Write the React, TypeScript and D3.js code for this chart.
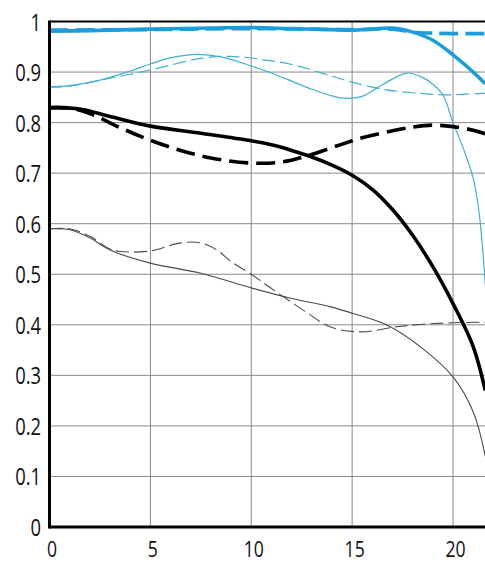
import React from "react";
import * as d3 from "d3";

const xTicks = [0, 5, 10, 15, 20];
const yTicks = [0, 0.1, 0.2, 0.3, 0.4, 0.5, 0.6, 0.7, 0.8, 0.9, 1];
const yTickLabels = ["0", "0.1", "0.2", "0.3", "0.4", "0.5", "0.6", "0.7", "0.8", "0.9", "1"];

const thickBlueSolidX = [0, 2, 5, 8, 10, 12, 14, 15, 16, 17, 18, 19, 20, 21, 21.6];
const thickBlueSolidY = [0.981, 0.982, 0.985, 0.987, 0.988, 0.986, 0.984, 0.983, 0.985, 0.987, 0.979, 0.963, 0.934, 0.9, 0.877];

const thickBlueDashedX = [0, 5, 10, 15, 17, 18, 19, 20, 21, 21.6];
const thickBlueDashedY = [0.983, 0.984, 0.986, 0.984, 0.985, 0.979, 0.977, 0.976, 0.976, 0.976];

const thinBlueSolidX = [0, 1, 2.5, 4, 5, 6, 7.3, 8.5, 10, 11, 12, 13, 14, 14.7, 15.5, 16.5, 17.7, 18.5, 19, 19.5, 20, 20.5, 21, 21.3, 21.6];
const thinBlueSolidY = [0.871, 0.873, 0.884, 0.902, 0.916, 0.928, 0.935, 0.93, 0.912, 0.898, 0.882, 0.866, 0.853, 0.848, 0.852, 0.875, 0.898, 0.889, 0.876, 0.855, 0.8, 0.75, 0.69, 0.62, 0.48];

const thinBlueDashedX = [0, 1, 3, 5, 7.5, 9, 10.5, 12, 13.5, 15, 16.5, 18, 19, 20, 21, 21.6];
const thinBlueDashedY = [0.87, 0.872, 0.888, 0.904, 0.927, 0.931, 0.925, 0.915, 0.898, 0.88, 0.866, 0.859, 0.856, 0.855, 0.857, 0.858];

const blackSolidX = [0, 1.5, 3, 5, 7.5, 10, 11, 12, 13, 14, 15, 16, 17, 18, 19, 20, 21, 21.6];
const blackSolidY = [0.829, 0.827, 0.812, 0.793, 0.779, 0.764, 0.756, 0.745, 0.732, 0.716, 0.696, 0.668, 0.628, 0.577, 0.515, 0.442, 0.357, 0.27];

const blackDashedX = [0, 1, 2, 3.5, 5, 6.5, 8, 10, 11.5, 12.75, 14.4, 15.5, 16.9, 18, 19, 20, 21, 21.6];
const blackDashedY = [0.83, 0.829, 0.818, 0.79, 0.765, 0.745, 0.73, 0.72, 0.722, 0.734, 0.756, 0.77, 0.783, 0.791, 0.795, 0.792, 0.785, 0.778];

const graySolidX = [0, 1, 2, 3, 5, 7.5, 10, 11.9, 13.9, 15, 16.7, 18.5, 20, 21, 21.6];
const graySolidY = [0.59, 0.588, 0.572, 0.548, 0.522, 0.502, 0.473, 0.453, 0.436, 0.423, 0.4, 0.353, 0.297, 0.228, 0.14];

const grayDashedX = [0, 1, 2, 3, 3.5, 5, 6.5, 7.5, 8.3, 9, 10, 11.1, 12.8, 13.9, 15.4, 17.2, 18.5, 20, 21.6];
const grayDashedY = [0.59, 0.59, 0.575, 0.55, 0.545, 0.546, 0.562, 0.562, 0.548, 0.525, 0.5, 0.469, 0.423, 0.396, 0.386, 0.396, 0.401, 0.404, 0.405];

const W = 485;
const H = 564;

export default function App() {
  const x = d3.scaleLinear().domain([0, 20]).range([49.5, 453]);
  const y = d3.scaleLinear().domain([0, 1]).range([527, 21.5]);
  const line = d3
    .line<[number, number]>()
    .x((d) => x(d[0]))
    .y((d) => y(d[1]))
    .curve(d3.curveCatmullRom.alpha(0.5));
  const pts = (xs: number[], ys: number[]) => xs.map((v, i) => [v, ys[i]] as [number, number]);

  const series = [
    { d: pts(graySolidX, graySolidY), c: "#4a4a4a", w: 1.1, dash: "" },
    { d: pts(grayDashedX, grayDashedY), c: "#4a4a4a", w: 1.1, dash: "13,5" },
    { d: pts(thinBlueSolidX, thinBlueSolidY), c: "#3fb1d3", w: 1.2, dash: "" },
    { d: pts(thinBlueDashedX, thinBlueDashedY), c: "#3fb1d3", w: 1.2, dash: "13,5" },
    { d: pts(blackDashedX, blackDashedY), c: "#000", w: 3.6, dash: "19,8" },
    { d: pts(blackSolidX, blackSolidY), c: "#000", w: 3.6, dash: "" },
    { d: pts(thickBlueDashedX, thickBlueDashedY), c: "#1c9ddb", w: 3.6, dash: "19,7" },
    { d: pts(thickBlueSolidX, thickBlueSolidY), c: "#1c9ddb", w: 3.6, dash: "" },
  ];

  const font = "'Open Sans', 'DejaVu Sans', sans-serif";

  return (
    <svg
      width={W}
      height={H}
      style={{ position: "fixed", left: 0, top: 0, background: "#fff" }}
    >
      <defs>
        <clipPath id="plot">
          <rect x={x(0)} y={y(1)} width={W - x(0)} height={y(0) - y(1)} />
        </clipPath>
      </defs>
      <rect x={0} y={0} width={W} height={H} fill="#fff" />
      {yTicks.slice(1, -1).map((t) => (
        <line key={"h" + t} x1={x(0)} x2={W} y1={y(t)} y2={y(t)} stroke="#8a8a8a" strokeWidth={1} />
      ))}
      {xTicks.slice(1).map((t) => (
        <line key={"v" + t} x1={x(t)} x2={x(t)} y1={y(1)} y2={y(0)} stroke="#8a8a8a" strokeWidth={1} />
      ))}
      <g clipPath="url(#plot)">
        {series.map((s, i) => (
          <path
            key={i}
            d={line(s.d) || ""}
            fill="none"
            stroke={s.c}
            strokeWidth={s.w}
            strokeDasharray={s.dash || undefined}
            strokeLinecap="butt"
          />
        ))}
      </g>
      <line x1={x(0)} x2={W} y1={y(1)} y2={y(1)} stroke="#000" strokeWidth={2} />
      <line x1={x(0)} x2={W} y1={y(0)} y2={y(0)} stroke="#000" strokeWidth={3} />
      <line x1={x(0)} x2={x(0)} y1={y(1) - 1} y2={y(0) + 1.5} stroke="#000" strokeWidth={3} />
      {yTicks.map((t, i) => (
        <g key={"yl" + t} transform={`translate(41,${y(t) + 9}) scale(0.8,1)`}>
          <text textAnchor="end" fontFamily={font} fontSize={23} fill="#111">
            {yTickLabels[i]}
          </text>
        </g>
      ))}
      {xTicks.map((t) => (
        <g key={"xl" + t} transform={`translate(${x(t) + 2.5},557) scale(0.8,1)`}>
          <text textAnchor="middle" fontFamily={font} fontSize={22} fill="#111">
            {String(t)}
          </text>
        </g>
      ))}
    </svg>
  );
}
